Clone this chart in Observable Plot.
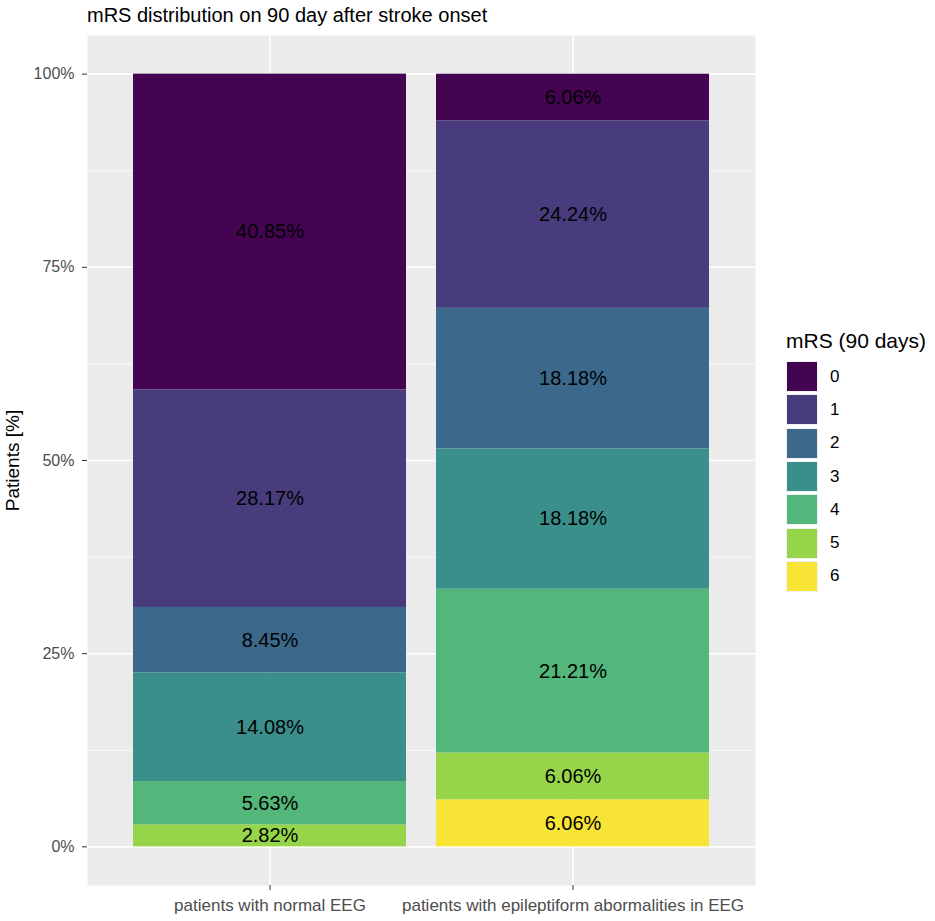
<!DOCTYPE html>
<html>
<head>
<meta charset="utf-8">
<script src="https://cdn.jsdelivr.net/npm/d3@7"></script>
<script src="https://cdn.jsdelivr.net/npm/@observablehq/plot@0.6"></script>
<style>
  html, body { margin: 0; padding: 0; background: #fff; }
  body { font-family: "Liberation Sans", Arial, sans-serif; }
  #wrap { position: relative; width: 935px; height: 921px; }
  #title { position: absolute; left: 87px; top: 3px; font-size: 20px; line-height: 24px; color: #000; white-space: nowrap; }
  #legend { position: absolute; left: 786px; top: 328px; }
  #legend .lt { font-size: 21px; line-height: 26px; color: #000; margin-bottom: 6px; white-space: nowrap; }
  #legend .row { display: flex; align-items: center; height: 33.3px; }
  #legend .key { width: 32px; height: 31px; border: 1px solid #f2f2f2; box-sizing: border-box; }
  #legend .lab { font-size: 17px; color: #000; margin-left: 12px; }
  #chart { position: absolute; left: 0; top: 0; }
</style>
</head>
<body>
<div id="wrap">
  <div id="chart"></div>
  <div id="title"></div>
  <div id="legend"></div>
</div>
<script>
const titleText = "mRS distribution on 90 day after stroke onset";
const legendTitle = "mRS (90 days)";
const yLabel = "Patients [%]";
const categories = ["patients with normal EEG", "patients with epileptiform abormalities in EEG"];
const mrsLevels = ["0", "1", "2", "3", "4", "5", "6"];
const normalValues = [40.85, 28.17, 8.45, 14.08, 5.63, 2.82, 0];
const epiValues = [6.06, 24.24, 18.18, 18.18, 21.21, 6.06, 6.06];
const colors = ["#440452", "#483C7C", "#3B688B", "#3B8F8A", "#53B67A", "#96D54A", "#F8E435"];
const yTicks = [0, 25, 50, 75, 100];
const yMinorTicks = [12.5, 37.5, 62.5, 87.5];

const seriesValues = [normalValues, epiValues];
const data = [];
categories.forEach((c, i) => {
  mrsLevels.forEach((m, j) => {
    data.push({group: c, mrs: m, value: seriesValues[i][j]});
  });
});
const stackOrder = mrsLevels.slice().reverse();

const font = '"Liberation Sans", Arial, sans-serif';

const chart = Plot.plot({
  width: 935,
  height: 921,
  marginTop: 35,
  marginBottom: 36,
  marginLeft: 87,
  marginRight: 180,
  style: {fontFamily: font, background: "transparent"},
  x: {type: "band", domain: categories, paddingInner: 0.1, paddingOuter: 0.15, label: null},
  y: {domain: [-5, 105], label: null},
  color: {domain: mrsLevels, range: colors},
  marks: [
    Plot.frame({fill: "#EBEBEB", stroke: null}),
    Plot.ruleY(yMinorTicks, {stroke: "white", strokeWidth: 0.8}),
    Plot.ruleY(yTicks, {stroke: "white", strokeWidth: 1.6}),
    Plot.ruleX(categories, {x: d => d, stroke: "white", strokeWidth: 1.6}),
    Plot.barY(data, Plot.stackY({x: "group", y: "value", z: "mrs", order: stackOrder, fill: "mrs", inset: 0})),
    Plot.text(data, Plot.stackY({
      filter: d => d.value > 0,
      x: "group", y: "value", z: "mrs", order: stackOrder,
      text: d => d.value.toFixed(2) + "%",
      fontSize: 20, fill: "black"
    })),
    Plot.axisY({ticks: yTicks, tickFormat: d => d + "%", tickSize: 5, tickPadding: 8, fontSize: 16, stroke: "#333333", fill: "#4D4D4D", label: null}),
    Plot.axisX({tickSize: 5, tickPadding: 8, fontSize: 17, stroke: "#333333", fill: "#4D4D4D", label: null}),
    Plot.axisY({ticks: [], label: yLabel, labelAnchor: "center", labelArrow: "none", labelOffset: 82, fontSize: 19, fill: "black"})
  ]
});
document.getElementById("chart").appendChild(chart);

document.getElementById("title").textContent = titleText;

const legend = document.getElementById("legend");
const lt = document.createElement("div");
lt.className = "lt";
lt.textContent = legendTitle;
legend.appendChild(lt);
mrsLevels.forEach((m, i) => {
  const row = document.createElement("div");
  row.className = "row";
  const key = document.createElement("div");
  key.className = "key";
  key.style.background = colors[i];
  const lab = document.createElement("div");
  lab.className = "lab";
  lab.textContent = m;
  row.appendChild(key);
  row.appendChild(lab);
  legend.appendChild(row);
});
</script>
</body>
</html>
